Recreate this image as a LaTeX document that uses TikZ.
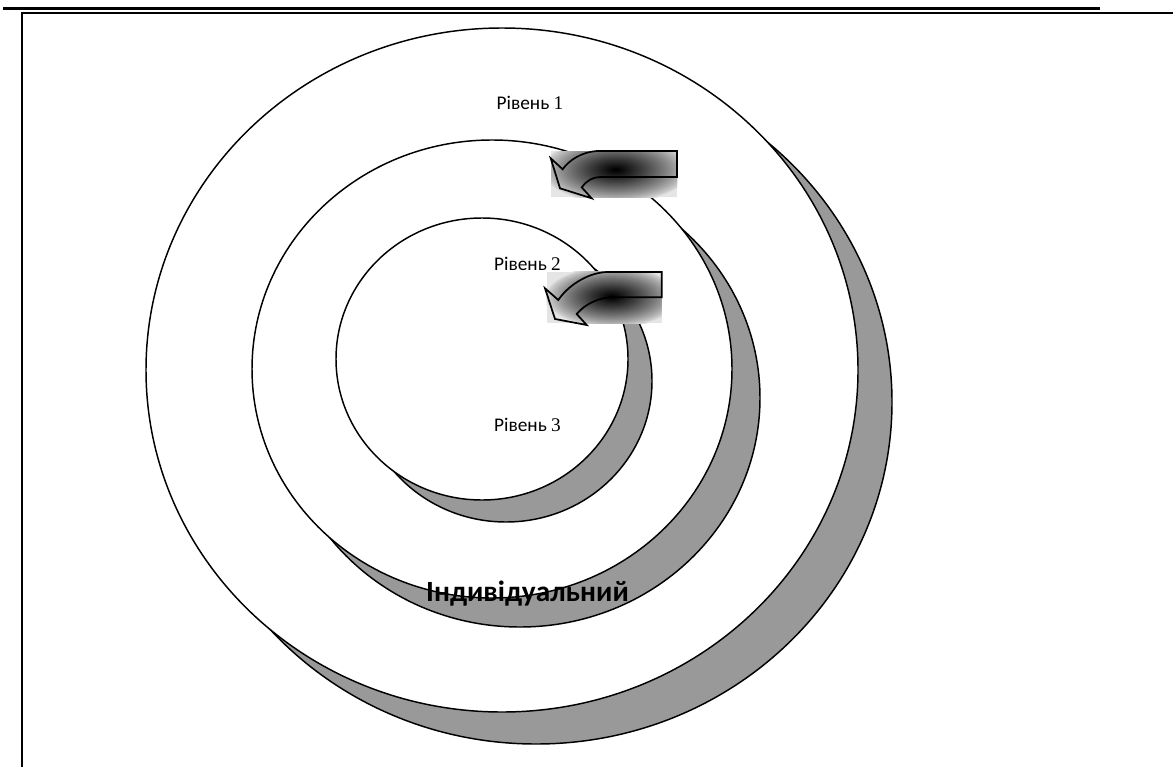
\documentclass[tikz,border=0pt]{standalone}
\usepackage{fontspec}
\setmainfont{Carlito}
\newfontfamily\numfont{Liberation Serif}
\begin{document}
\begin{tikzpicture}[x=0.75pt,y=-0.75pt,
  face/.style={draw=black, line width=1.1pt, fill=white},
  shadowband/.style={draw=black, line width=1.1pt, fill=black!40},
  lbl/.style={font=\fontsize{14.5}{17}\selectfont, anchor=base, inner sep=0pt},
  biglbl/.style={font=\fontsize{22}{26}\selectfont\bfseries, anchor=base, inner sep=0pt},
  arrowbox/.style={fill=black!10},
  arrowline/.style={draw=black, line width=1.3pt, line join=miter}]
\useasboundingbox (0,0) rectangle (1173,767);
% frame lines
\draw[line width=2.6pt] (3,8.3) -- (1100,8.3);
\draw[line width=1.4pt] (22,767) -- (22,12.8) -- (1173,12.8);
% outer level
\draw[shadowband] (536,402) ellipse [x radius=356, y radius=342];
\draw[face] (502,370) ellipse [x radius=356, y radius=342];
% middle level
\draw[shadowband] (520,398) ellipse [x radius=240, y radius=229];
\draw[face] (492,369) ellipse [x radius=240, y radius=229];
% inner level
\draw[shadowband] (506,381) ellipse [x radius=146, y radius=141];
\draw[face] (482,359) ellipse [x radius=146, y radius=141];
% labels
\node[lbl] (l1) at (530,109) {Рівень {\numfont 1}};
\node[lbl] (l2) at (527.5,270.5) {Рівень {\numfont 2}};
\node[lbl] (l3) at (527.5,431.5) {Рівень {\numfont 3}};
\node[biglbl] (ind) at (527.5,601.5) {Індивідуальний};
% arrow 1
\fill[arrowbox] (551,151) rectangle (677,197);
\begin{scope}
  \clip (551,151) rectangle (677,197);
  \foreach \i in {0,...,29}{
    \pgfmathsetmacro\f{1-\i/30}
    \pgfmathsetmacro\p{10+90*(\i/29)^0.75}
    \fill[black!\p] (616,170) ellipse [x radius=\f*76, y radius=\f*33];
  }
\end{scope}
\draw[arrowline] (677,151) -- (597,151) .. controls (582,152) and (569,160) .. (562.7,169.3) -- (550.7,158.3) -- (560,188.3) -- (591.7,198.3) -- (581.7,187.3) .. controls (586,181) and (593,177) .. (600,177) -- (677,177) -- cycle;
% arrow 2
\fill[arrowbox] (546.7,271.7) rectangle (661.7,323.3);
\begin{scope}
  \clip (546.7,271.7) rectangle (661.7,323.3);
  \foreach \i in {0,...,29}{
    \pgfmathsetmacro\f{1-\i/30}
    \pgfmathsetmacro\p{10+90*(\i/29)^0.75}
    \fill[black!\p] (612,297) ellipse [x radius=\f*68, y radius=\f*31];
  }
\end{scope}
\draw[arrowline] (661.7,272) -- (606.7,272) .. controls (586,273) and (567,287) .. (558.3,300) -- (545,288.3) -- (555,319) -- (586.7,325) -- (576.7,314) .. controls (586,303) and (600,297.3) .. (613.3,297.3) -- (661.7,297.3) -- cycle;
\end{tikzpicture}
\end{document}
